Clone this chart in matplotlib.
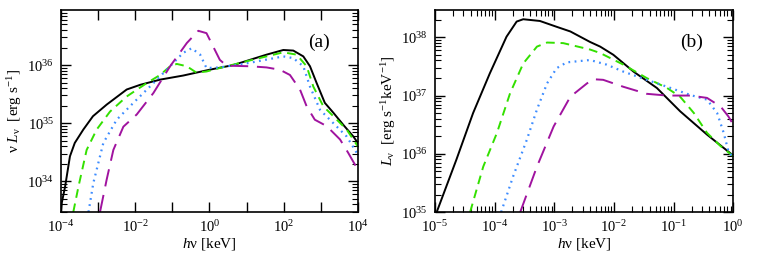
import numpy as np
import matplotlib
matplotlib.use('Agg')
import matplotlib.pyplot as plt
from matplotlib.ticker import LogLocator, NullLocator, FixedLocator, FixedFormatter, NullFormatter

plt.rcParams['font.family'] = 'Liberation Serif'
plt.rcParams['mathtext.fontset'] = 'custom'
plt.rcParams['mathtext.rm'] = 'Liberation Serif'
plt.rcParams['mathtext.it'] = 'Liberation Serif:italic'

# panel (a): log10(h nu / keV), log10(nu L_nu)
a_black_x = [-4.0, -3.98, -3.89, -3.76, -3.63, -3.40, -3.14, -2.77, -2.23, -1.87, -1.33, -0.71, 0.0, 0.64,
             1.54, 1.99, 2.26, 2.53, 2.71, 2.89, 3.11, 3.34, 3.61, 3.88, 4.0]
a_black_y = [33.48, 33.63, 33.91, 34.43, 34.66, 34.89, 35.12, 35.32, 35.58, 35.66, 35.75, 35.82, 35.92, 36.0,
             36.18, 36.26, 36.25, 36.15, 35.98, 35.69, 35.35, 35.18, 34.97, 34.77, 34.66]

a_green_x = [-3.67, -3.53, -3.31, -3.04, -2.68, -2.23, -1.69, -1.33, -1.06, -0.88, -0.61, -0.35, -0.08, 0.28,
             1.09, 1.99, 2.35, 2.62, 2.80, 3.07, 3.34, 3.70, 4.0]
a_green_y = [33.47, 33.91, 34.54, 34.89, 35.20, 35.46, 35.69, 35.83, 35.98, 36.02, 35.98, 35.87, 35.89, 35.95,
             36.08, 36.22, 36.18, 35.98, 35.63, 35.29, 35.12, 34.89, 34.60]

a_blue_x = [-3.26, -3.13, -2.86, -2.50, -2.05, -1.51, -1.06, -0.71, -0.48, -0.25, -0.08, 0.28, 1.09, 1.99,
            2.26, 2.53, 2.71, 2.98, 3.34, 3.70, 4.0]
a_blue_y = [33.47, 33.97, 34.66, 35.06, 35.35, 35.69, 35.98, 36.21, 36.29, 36.18, 35.95, 35.96, 36.04, 36.15,
            36.12, 35.98, 35.63, 35.23, 35.0, 34.77, 34.46]

a_purple_x = [-2.95, -2.77, -2.59, -2.32, -1.96, -1.51, -1.06, -0.61, -0.30, -0.08, 0.10, 0.28, 0.46, 1.09,
              1.54, 1.90, 2.17, 2.44, 2.62, 2.84, 3.16, 3.52, 3.74, 4.0]
a_purple_y = [33.47, 34.03, 34.54, 34.94, 35.15, 35.52, 35.98, 36.38, 36.59, 36.55, 36.32, 36.09, 35.99, 35.98,
              35.96, 35.92, 35.83, 35.58, 35.29, 35.06, 34.95, 34.72, 34.49, 34.20]

# panel (b): log10(h nu / keV), log10(L_nu)
b_black_x = [-4.97, -4.64, -4.36, -4.08, -3.80, -3.63, -3.52, -3.24, -2.96, -2.73, -2.40, -2.23, -2.01,
             -1.67, -1.28, -0.89, -0.44, 0.0]
b_black_y = [35.0, 35.90, 36.70, 37.38, 38.01, 38.27, 38.31, 38.28, 38.18, 38.10, 37.92, 37.84, 37.70,
             37.41, 37.13, 36.73, 36.33, 35.97]

b_green_x = [-4.41, -4.19, -3.96, -3.74, -3.52, -3.29, -3.12, -2.85, -2.40, -2.23, -1.84, -1.45, -1.11,
             -0.89, -0.66, -0.44, -0.21, 0.0]
b_green_y = [35.0, 35.78, 36.36, 37.04, 37.55, 37.84, 37.91, 37.90, 37.79, 37.73, 37.53, 37.30, 37.13,
             36.98, 36.70, 36.36, 36.13, 35.96]

b_blue_x = [-3.89, -3.69, -3.46, -3.29, -3.12, -2.96, -2.79, -2.40, -2.12, -1.84, -1.45, -1.05, -0.72,
            -0.44, -0.27, -0.16, -0.08, 0.0]
b_blue_y = [35.0, 35.61, 36.24, 36.76, 37.21, 37.47, 37.57, 37.61, 37.53, 37.41, 37.27, 37.13, 37.01,
            36.93, 36.70, 36.36, 36.04, 35.93]

b_purple_x = [-3.57, -3.29, -3.01, -2.73, -2.45, -2.34, -2.18, -1.84, -1.45, -1.11, -0.72, -0.44, -0.21,
              -0.08, 0.0]
b_purple_y = [35.0, 35.78, 36.47, 36.98, 37.21, 37.28, 37.27, 37.15, 37.03, 37.0, 37.0, 36.96, 36.81,
              36.64, 36.50]

styles = {
    'black': dict(color='black', lw=1.4, ls='-'),
    'green': dict(color='#33e000', lw=1.4, ls=(0, (4.5, 3))),
    'blue': dict(color='#3d8cff', lw=1.6, ls=(0, (0.8, 2.0))),
    'purple': dict(color='#a0139f', lw=1.4, ls=(0, (9, 4.5))),
}


def draw(ax, curves):
    for name, (x, y) in curves.items():
        ax.plot(10 ** np.array(x), 10 ** np.array(y), **styles[name])


def style_axes(ax):
    ax.set_xscale('log')
    ax.set_yscale('log')
    ax.tick_params(which='both', direction='in', top=True, right=True, labelsize=10.5, pad=5)
    ax.tick_params(which='major', length=7, width=1.0)
    ax.tick_params(which='minor', length=4, width=0.8)
    for sp in ax.spines.values():
        sp.set_linewidth(1.2)


fig = plt.figure(figsize=(7.63, 2.54), dpi=100)
ax1 = fig.add_axes([0.080, 0.165, 0.389, 0.796])
ax2 = fig.add_axes([0.570, 0.165, 0.391, 0.796])

draw(ax1, {'black': (a_black_x, a_black_y), 'green': (a_green_x, a_green_y),
           'blue': (a_blue_x, a_blue_y), 'purple': (a_purple_x, a_purple_y)})
draw(ax2, {'black': (b_black_x, b_black_y), 'green': (b_green_x, b_green_y),
           'blue': (b_blue_x, b_blue_y), 'purple': (b_purple_x, b_purple_y)})

for ax in (ax1, ax2):
    style_axes(ax)

# panel (a) axes
ax1.set_xlim(1e-4, 1e4)
ax1.set_ylim(10 ** 33.47, 10 ** 36.95)
xt = [10.0 ** k for k in range(-4, 5)]
ax1.xaxis.set_major_locator(FixedLocator(xt))
ax1.xaxis.set_major_formatter(FixedFormatter(
    [r'$10^{%d}$' % k if k % 2 == 0 else '' for k in range(-4, 5)]))
ax1.xaxis.set_minor_locator(NullLocator())
ax1.yaxis.set_major_locator(FixedLocator([1e34, 1e35, 1e36]))
ax1.yaxis.set_major_formatter(FixedFormatter([r'$10^{34}$', r'$10^{35}$', r'$10^{36}$']))
ax1.yaxis.set_minor_locator(LogLocator(base=10, subs=np.arange(2, 10), numticks=20))
ax1.yaxis.set_minor_formatter(NullFormatter())
ax1.set_xlabel(r'$h$ν [keV]', fontsize=11, labelpad=1)
ax1.set_ylabel(r'ν $L_{\mathrm{ν}}$  [erg s$^{-1}$]', fontsize=11, labelpad=2)
ax1.text(0.87, 0.84, '(a)', transform=ax1.transAxes, fontsize=14, ha='center', va='center')

# panel (b) axes
ax2.set_xlim(1e-5, 1.0)
ax2.set_ylim(1e35, 10 ** 38.47)
ax2.xaxis.set_major_locator(FixedLocator([10.0 ** k for k in range(-5, 1)]))
ax2.xaxis.set_major_formatter(FixedFormatter([r'$10^{%d}$' % k for k in range(-5, 1)]))
ax2.xaxis.set_minor_locator(LogLocator(base=10, subs=np.arange(2, 10), numticks=20))
ax2.xaxis.set_minor_formatter(NullFormatter())
ax2.yaxis.set_major_locator(FixedLocator([1e35, 1e36, 1e37, 1e38]))
ax2.yaxis.set_major_formatter(FixedFormatter([r'$10^{35}$', r'$10^{36}$', r'$10^{37}$', r'$10^{38}$']))
ax2.yaxis.set_minor_locator(LogLocator(base=10, subs=np.arange(2, 10), numticks=20))
ax2.yaxis.set_minor_formatter(NullFormatter())
ax2.set_xlabel(r'$h$ν [keV]', fontsize=11, labelpad=1)
ax2.set_ylabel(r'$L_{\mathrm{ν}}$  [erg s$^{-1}$keV$^{-1}$]', fontsize=11, labelpad=2)
ax2.text(0.86, 0.84, '(b)', transform=ax2.transAxes, fontsize=14, ha='center', va='center')

fig.savefig('out.png', dpi=100)
